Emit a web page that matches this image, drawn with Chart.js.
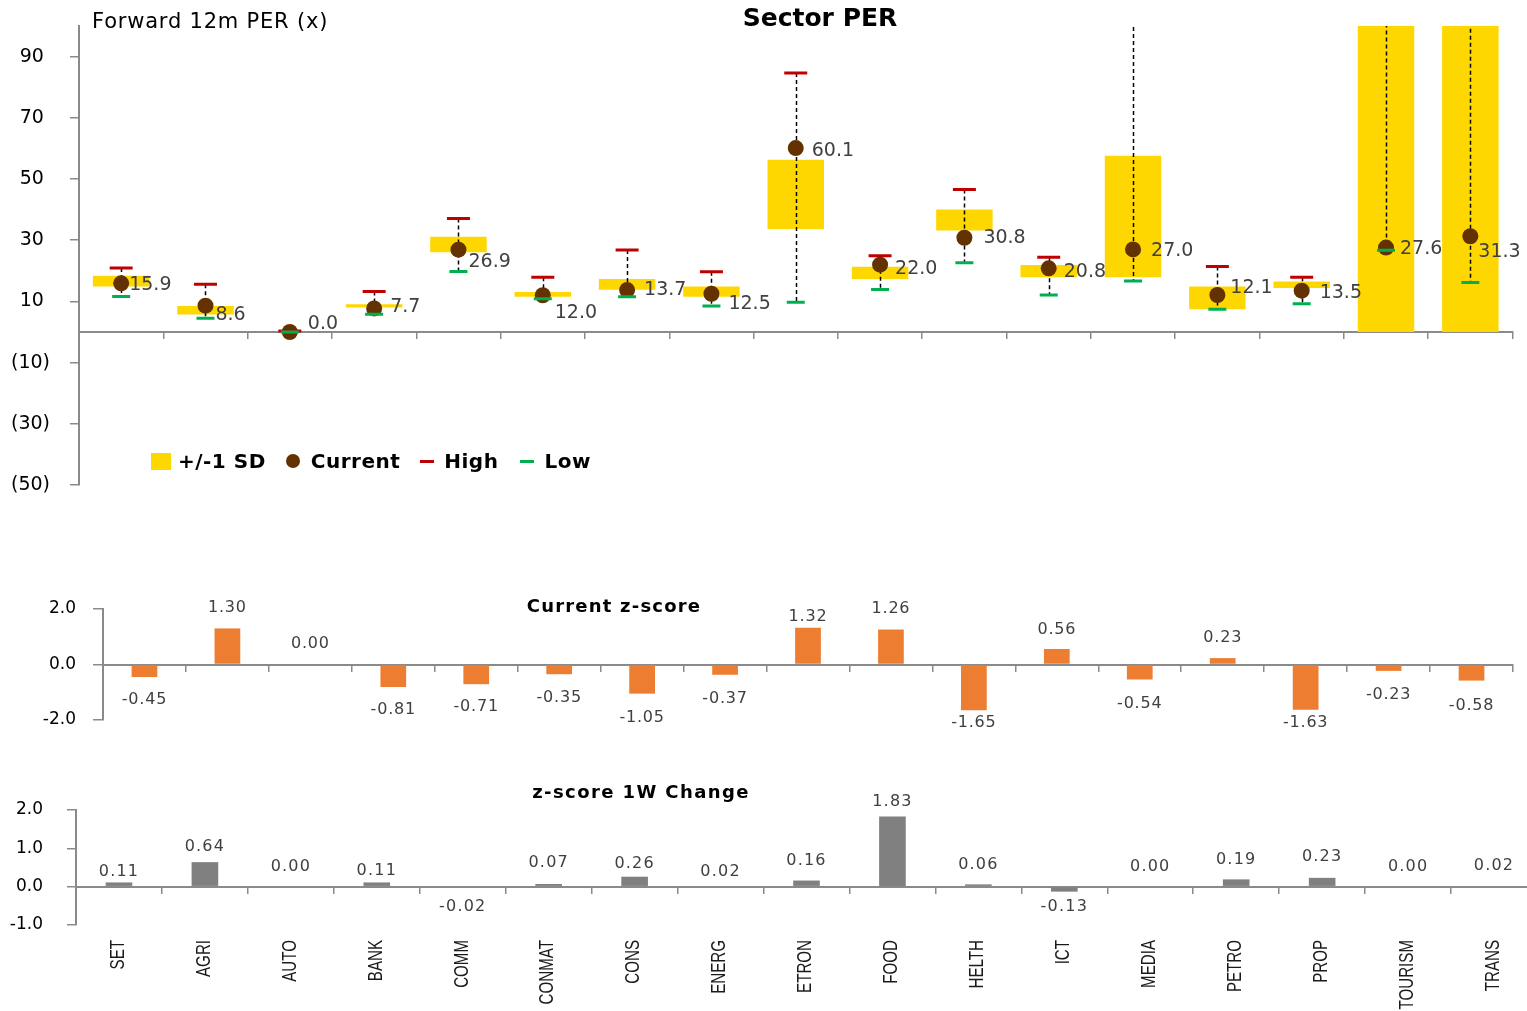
<!DOCTYPE html>
<html>
<head>
<meta charset="utf-8">
<title>Sector PER</title>
<script src="https://cdn.jsdelivr.net/npm/chart.js@4.4.1/dist/chart.umd.min.js"></script>
<style>
  html, body { margin: 0; padding: 0; background: #fff; overflow: hidden; }
  #page { position: relative; width: 1527px; height: 1011px; overflow: hidden; background: #fff; }
  #page canvas { position: absolute; left: 0; }
  .txt { position: absolute; white-space: nowrap; font-family: 'DejaVu Sans', sans-serif; color: #000; line-height: 1; }
  .ttl { position: absolute; white-space: nowrap; font-family: 'DejaVu Sans', sans-serif; font-weight: bold; color: #000; line-height: 1; transform: translateX(-50%); }
  #legend { position: absolute; left: 151px; top: 451px; height: 20px; display: flex; align-items: center;
            font: bold 20px 'DejaVu Sans', sans-serif; color: #000; line-height: 1; white-space: nowrap; letter-spacing: 0.5px; }
  #legend .sw { display: inline-block; flex: none; }
</style>
</head>
<body>
<div id="page">
  <canvas id="perChart" width="1527" height="500" style="top:0"></canvas>
  <canvas id="zChart" width="1527" height="200" style="top:560px"></canvas>
  <canvas id="chgChart" width="1560" height="251" style="top:760px"></canvas>

  <div class="txt" style="left:92px; top:11px; font-size:21px; letter-spacing:0.8px;">Forward 12m PER (x)</div>
  <div class="ttl" style="left:820px; top:5px; font-size:25px;">Sector PER</div>

  <div id="legend">
    <span class="sw" style="width:20px;height:17px;background:#FFD700;"></span>
    <span style="margin-left:7px;">+/-1 SD</span>
    <span class="sw" style="width:14px;height:14px;border-radius:50%;background:#633200;margin-left:20px;"></span>
    <span style="margin-left:11px;">Current</span>
    <span class="sw" style="width:14px;height:3px;background:#C00000;margin-left:20px;"></span>
    <span style="margin-left:10px;">High</span>
    <span class="sw" style="width:14px;height:3px;background:#00B050;margin-left:22px;"></span>
    <span style="margin-left:10px;">Low</span>
  </div>

  <div class="ttl" style="left:614px; top:597px; font-size:18px; letter-spacing:1.2px;">Current z-score</div>
  <div class="ttl" style="left:641px; top:783px; font-size:18px; letter-spacing:1.4px;">z-score 1W Change</div>
</div>

<script>
// ---- data ----
const sectors = ['SET', 'AGRI', 'AUTO', 'BANK', 'COMM', 'CONMAT', 'CONS', 'ENERG', 'ETRON',
                 'FOOD', 'HELTH', 'ICT', 'MEDIA', 'PETRO', 'PROP', 'TOURISM', 'TRANS'];

// forward 12m PER (x)
const perCurrent = [15.9, 8.6, 0.0, 7.7, 26.9, 12.0, 13.7, 12.5, 60.1, 22.0, 30.8, 20.8, 27.0, 12.1, 13.5, 27.6, 31.3];
const perHigh    = [20.9, 15.6, 0.3, 13.2, 37.1, 17.9, 26.8, 19.7, 84.6, 24.9, 46.6, 24.4, 118.0, 21.4, 17.9, 126.0, 122.0];
const perLow     = [11.6, 4.5, 0.0, 5.8, 19.8, 10.9, 11.5, 8.5, 9.7, 13.9, 22.6, 12.1, 16.7, 7.4, 9.2, 26.7, 16.2];
const sdUpper    = [18.4, 8.5, 0.0, 9.1, 31.1, 13.1, 17.3, 14.9, 56.3, 21.3, 40.0, 21.9, 57.6, 14.9, 16.5, 108.0, 106.0];
const sdLower    = [14.9, 5.7, 0.0, 8.0, 26.1, 11.5, 13.8, 11.5, 33.7, 17.3, 33.2, 17.9, 17.9, 7.4, 14.4, 0.0, 0.0];
const perTicks   = [-50, -30, -10, 10, 30, 50, 70, 90];

// z-scores
const zCurrent  = [-0.45, 1.30, 0.00, -0.81, -0.71, -0.35, -1.05, -0.37, 1.32, 1.26, -1.65, 0.56, -0.54, 0.23, -1.63, -0.23, -0.58];
const z1wChange = [0.11, 0.64, 0.00, 0.11, -0.02, 0.07, 0.26, 0.02, 0.16, 1.83, 0.06, -0.13, 0.00, 0.19, 0.23, 0.00, 0.02];
const zTicks    = [-2, 0, 2];
const chgTicks  = [-1, 0, 1, 2];

// ---- label placement (styling) ----
const perLabelDx = [8, 10, 18, 16, 10, 12, 17, 17, 16, 15, 19, 15, 18, 13, 18, 14, 8];
const perLabelDy = [2, 9, -8, -1, 12, 18, 0, 10, 3, 4, 0, 4, 2, -7, 2, 2, 16];
const zLabelGap   = [23, 21, 21, 23, 23, 24, 24, 24, 11, 21, 13, 19, 24, 20, 13, 24, 25];
const chgLabelGap = [11, 15, 20, 12, 19, 21, 13, 14, 20, 15, 20, 15, 20, 20, 21, 20, 20];

// ---- styles ----
const axisGrey  = '#8a8a8a';
const labelGrey = '#404040';
const sdYellow  = '#FFD700';
const curBrown  = '#633200';
const highRed   = '#C00000';
const lowGreen  = '#00B050';

const tickFmt = v => v.toFixed(1);
const perFmt  = v => (v < 0 ? '(' + Math.abs(v) + ')' : v + ' ');

function fixedTicks(list) {
  return scale => { scale.ticks = list.map(v => ({ value: v })); };
}

// dashed low-to-high stems, painted right after the SD boxes
const stemPlugin = {
  id: 'stems',
  afterDatasetDraw(chart, args) {
    if (args.index !== 0) return;
    const { ctx, chartArea: a, scales: { x, y } } = chart;
    ctx.save();
    ctx.beginPath();
    ctx.rect(a.left, a.top, a.right - a.left, a.bottom - a.top);
    ctx.clip();
    ctx.strokeStyle = '#000';
    ctx.lineWidth = 1.5;
    ctx.setLineDash([4, 3]);
    sectors.forEach((s, i) => {
      const px = Math.round(x.getPixelForValue(i)) + 0.5;
      ctx.beginPath();
      ctx.moveTo(px, y.getPixelForValue(perHigh[i]));
      ctx.lineTo(px, y.getPixelForValue(perLow[i]));
      ctx.stroke();
    });
    ctx.restore();
  }
};

// value labels next to the current-PER dots
const perLabelPlugin = {
  id: 'perLabels',
  afterDatasetsDraw(chart) {
    const meta = chart.getDatasetMeta(1);
    const ctx = chart.ctx;
    ctx.save();
    ctx.font = '19px "DejaVu Sans"';
    ctx.fillStyle = labelGrey;
    ctx.textAlign = 'left';
    ctx.textBaseline = 'middle';
    meta.data.forEach((pt, i) => {
      ctx.fillText(perCurrent[i].toFixed(1), pt.x + perLabelDx[i], pt.y + perLabelDy[i]);
    });
    ctx.restore();
  }
};

// value labels at the outer end of each bar
function barValueLabels(values, gaps, size, spacing) {
  return {
    id: 'barValues',
    afterDatasetsDraw(chart) {
      const meta = chart.getDatasetMeta(0);
      const ctx = chart.ctx;
      ctx.save();
      ctx.font = size + 'px "DejaVu Sans"';
      ctx.fillStyle = labelGrey;
      ctx.textAlign = 'center';
      ctx.textBaseline = 'middle';
      ctx.letterSpacing = spacing;
      meta.data.forEach((bar, i) => {
        const v = values[i];
        const yy = v < 0 ? bar.y + gaps[i] : bar.y - gaps[i];
        ctx.fillText(v.toFixed(2), bar.x, yy);
      });
      ctx.restore();
    }
  };
}

// upright sector names under the bottom panel
const sectorAxisLabels = {
  id: 'sectorAxis',
  afterDraw(chart) {
    const { ctx, chartArea: a, scales: { x } } = chart;
    ctx.save();
    ctx.font = '21px "Liberation Sans"';
    ctx.fillStyle = '#1a1a1a';
    ctx.textAlign = 'right';
    ctx.textBaseline = 'middle';
    sectors.forEach((s, i) => {
      ctx.save();
      ctx.translate(x.getPixelForValue(i) - 1, a.bottom + 15);
      ctx.rotate(-Math.PI / 2);
      ctx.scale(0.72, 1);
      ctx.fillText(s, 0, 0);
      ctx.restore();
    });
    ctx.restore();
  }
};

function zeroXAxis() {
  return {
    position: { y: 0 },
    offset: true,
    grid: { offset: true, drawOnChartArea: false, drawTicks: true, tickLength: 6, color: axisGrey, lineWidth: 1.5 },
    border: { display: true, color: axisGrey, width: 2 },
    ticks: { display: false }
  };
}

function leftAxis(min, max, list, width, tickLen, pad, size, fmt) {
  return {
    min: min, max: max,
    afterBuildTicks: fixedTicks(list),
    afterFit: s => { s.width = width; s.paddingTop = 0; s.paddingBottom = 0; },
    grid: { drawOnChartArea: false, drawTicks: true, tickLength: tickLen, color: axisGrey, lineWidth: 1.5 },
    border: { display: true, color: axisGrey, width: 2 },
    ticks: { padding: pad, color: '#000', font: { family: 'DejaVu Sans', size: size }, callback: fmt }
  };
}

const common = {
  responsive: false,
  animation: false,
  devicePixelRatio: 1,
  events: [],
  plugins: { legend: { display: false }, tooltip: { enabled: false }, title: { display: false } }
};

// ---- Sector PER ----
new Chart(document.getElementById('perChart'), {
  type: 'bar',
  data: {
    labels: sectors,
    datasets: [
      { type: 'bar', label: '+/-1 SD', data: sectors.map((s, i) => [sdLower[i], sdUpper[i]]),
        backgroundColor: sdYellow, borderWidth: 0, barPercentage: 0.67, categoryPercentage: 1, clip: 0, order: 3 },
      { type: 'line', label: 'Current', data: perCurrent, showLine: false, pointStyle: 'circle',
        pointRadius: 8, pointBackgroundColor: curBrown, pointBorderWidth: 0, borderColor: curBrown, order: 2 },
      { type: 'line', label: 'High', data: perHigh, showLine: false, pointStyle: 'line',
        pointRadius: 11.5, pointBorderColor: highRed, pointBorderWidth: 3, borderColor: highRed, order: 1 },
      { type: 'line', label: 'Low', data: perLow, showLine: false, pointStyle: 'line',
        pointRadius: 9, pointBorderColor: lowGreen, pointBorderWidth: 3, borderColor: lowGreen, order: 0 }
    ]
  },
  options: Object.assign({}, common, {
    layout: { padding: { top: 26, bottom: 15, left: 0, right: 12 } },
    scales: {
      x: zeroXAxis(),
      y: leftAxis(-50, 100, perTicks, 79, 9, 20, 19, perFmt)
    }
  }),
  plugins: [stemPlugin, perLabelPlugin]
});

// ---- Current z-score ----
new Chart(document.getElementById('zChart'), {
  type: 'bar',
  data: {
    labels: sectors,
    datasets: [{ data: zCurrent, backgroundColor: '#ED7D31', borderWidth: 0, barPercentage: 0.31, categoryPercentage: 1 }]
  },
  options: Object.assign({}, common, {
    layout: { padding: { top: 49, bottom: 40, left: 0, right: 14 } },
    scales: {
      x: zeroXAxis(),
      y: leftAxis(-2, 2, zTicks, 103, 10, 17, 17, tickFmt)
    }
  }),
  plugins: [barValueLabels(zCurrent, zLabelGap, 16, '0.8px')]
});

// ---- z-score 1W change ----
new Chart(document.getElementById('chgChart'), {
  type: 'bar',
  data: {
    labels: sectors,
    datasets: [{ data: z1wChange, backgroundColor: '#808080', borderWidth: 0, barPercentage: 0.31, categoryPercentage: 1 }]
  },
  options: Object.assign({}, common, {
    layout: { padding: { top: 50, bottom: 86, left: 0, right: 23 } },
    scales: {
      x: zeroXAxis(),
      y: leftAxis(-1, 2, chgTicks, 76, 9, 24, 17, tickFmt)
    }
  }),
  plugins: [barValueLabels(z1wChange, chgLabelGap, 16, '1.2px'), sectorAxisLabels]
});
</script>
</body>
</html>
